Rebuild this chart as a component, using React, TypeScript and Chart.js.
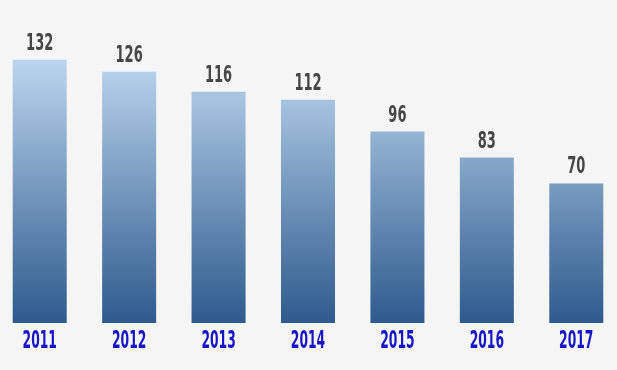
import React, { useEffect, useRef } from "react";
import { Chart, registerables } from "chart.js";

Chart.register(...registerables);

const categories = ["2011", "2012", "2013", "2014", "2015", "2016", "2017"];
const values = [132, 126, 116, 112, 96, 83, 70];
const yMax = 160;

const labelPlugin = {
  id: "barLabels",
  afterDatasetsDraw(chart: any) {
    const ctx = chart.ctx;
    const meta = chart.getDatasetMeta(0);
    const bottom = chart.chartArea.bottom;
    ctx.save();
    meta.data.forEach((bar: any, i: number) => {
      // value label
      ctx.save();
      ctx.translate(bar.x, bar.y - 10);
      ctx.scale(0.63, 1);
      ctx.font = "bold 23px 'DejaVu Sans Condensed', 'DejaVu Sans', sans-serif";
      ctx.fillStyle = "#464646";
      ctx.textAlign = "center";
      ctx.textBaseline = "alphabetic";
      ctx.fillText(String(values[i]), 0, 0);
      ctx.restore();
      // category label
      ctx.save();
      ctx.translate(bar.x, bottom + 25);
      ctx.scale(0.56, 1);
      ctx.font = "bold 24.5px 'DejaVu Sans Condensed', 'DejaVu Sans', sans-serif";
      ctx.fillStyle = "#1616c4";
      ctx.textAlign = "center";
      ctx.textBaseline = "alphabetic";
      ctx.fillText(categories[i], 0, 0);
      ctx.restore();
    });
    ctx.restore();
  },
};

export default function App() {
  const ref = useRef<HTMLCanvasElement | null>(null);
  useEffect(() => {
    if (!ref.current) return;
    const chart = new Chart(ref.current, {
      type: "bar",
      data: {
        labels: categories,
        datasets: [
          {
            data: values,
            backgroundColor: (c: any) => {
              const ch = c.chart;
              const area = ch.chartArea;
              if (!area) return "#6f92bb";
              const top = ch.scales.y.getPixelForValue(Math.max(...values));
              const g = ch.ctx.createLinearGradient(0, top, 0, area.bottom);
              g.addColorStop(0, "#bbd5ee");
              g.addColorStop(1, "#2e5a8c");
              return g;
            },
            borderWidth: 0,
            barPercentage: 0.604,
            categoryPercentage: 1,
          },
        ],
      },
      options: {
        animation: false,
        responsive: false,
        maintainAspectRatio: false,
        layout: { padding: { top: 4, bottom: 47, left: 0, right: 0 } },
        plugins: { legend: { display: false }, tooltip: { enabled: false } },
        scales: {
          x: { display: false },
          y: { display: false, min: 0, max: yMax },
        },
      },
      plugins: [labelPlugin],
    });
    return () => chart.destroy();
  }, []);
  return (
    <div
      style={{
        position: "fixed",
        left: 0,
        top: 0,
        width: "100vw",
        height: "100vh",
        background: "#f5f5f5",
        overflow: "hidden",
      }}
    >
      <canvas
        ref={ref}
        width={626}
        height={370}
        style={{ position: "absolute", left: -5, top: 0, width: 626, height: 370 }}
      />
    </div>
  );
}
